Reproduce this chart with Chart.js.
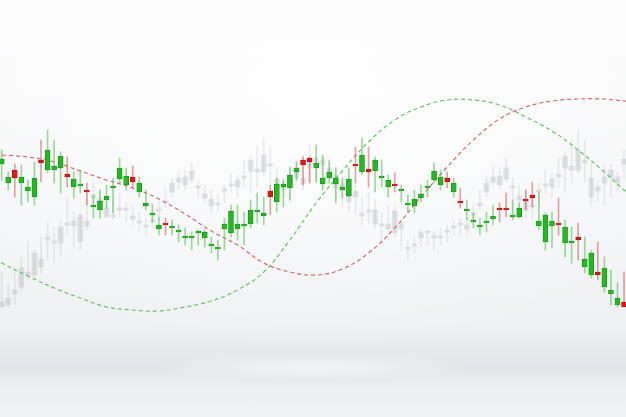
<!DOCTYPE html>
<html>
<head>
<meta charset="utf-8">
<script src="https://cdn.jsdelivr.net/npm/chart.js@4.4.1/dist/chart.umd.min.js"></script>
<style>
  html, body { margin: 0; padding: 0; }
  body {
    width: 626px; height: 417px; overflow: hidden;
    background:
      radial-gradient(ellipse 160px 14px at 50% 88%, rgba(255,255,255,0.55), rgba(255,255,255,0)),
      radial-gradient(ellipse 420px 260px at 50% 22%, rgba(255,255,255,0.9), rgba(255,255,255,0)),
      linear-gradient(to bottom, #fbfbfc 0%, #f4f5f7 55%, #eef0f3 78%, #e3e5ea 88%, #edeef2 93%, #f1f2f5 100%);
  }
  #wrap { position: absolute; left: 0; top: 0; width: 626px; height: 417px; }
</style>
</head>
<body>
<div id="wrap"><canvas id="myChart" width="626" height="417"></canvas></div>
<script>
// Main (coloured) candles, one per session
const candleOpen = [336,317,330,317,309,303,340,330,330,332, 326,313,314,310,293,290,300,312,321,315,
  323,308,294,285,271,276,272,268,262,262, 267,262,254,251,271,267,271,274,276,288,
  284,309,298,313,312,328,340,342,332,316, 322,316,310,304,336,328,331,329,322,313,
  316,309,295,294,302,312,320,315,322,308, 299,289,278,273,277,281,291,291,283,283,
  301,305,274,258,274,276,257,257,263,233, 225,228,213,206,195,198];
const candleClose = [341,323,322,323,313,322,337,350,334,344, 323,321,316,308,294,299,304,314,332,324,
  318,317,297,287,275,275,274,270,263,263, 268,268,256,253,276,289,276,276,290,290,
  287,303,316,316,325,332,335,338,337,322, 328,322,313,321,334,345,328,340,323,320,
  314,310,296,301,306,314,329,323,318,317, 297,290,280,275,279,284,290,290,284,292,
  299,302,279,285,279,275,273,258,260,241, 247,225,232,210,202,193];
const candleHigh = [350,328,336,335,320,338,360,370,360,348, 343,328,330,317,305,310,315,322,342,332,
  334,323,310,296,283,282,280,275,272,268, 270,270,263,260,282,295,295,288,300,307,
  303,315,322,320,333,338,343,343,355,345, 340,332,322,332,353,362,353,343,340,325,
  327,315,305,310,315,320,337,330,328,322, 312,300,287,282,288,295,297,307,300,297,
  310,318,308,287,288,302,280,273,277,263, 250,258,243,230,217,228];
const candleLow = [320,310,303,295,298,295,318,327,317,307, 313,302,307,295,282,282,292,287,317,310,
  312,303,290,278,265,265,265,258,255,250, 255,253,247,240,250,263,260,255,272,277,
  275,285,288,293,300,320,315,317,318,310, 317,297,302,303,317,325,313,308,313,303,
  308,298,288,287,298,303,317,310,312,303, 292,280,272,265,268,275,278,283,280,282,
  290,293,270,250,252,265,243,237,240,227, 222,220,208,195,193,193];

// Faded background candles
const ghostOpen = [198,195,206,213,228,225,233,263,257,257, 276,274,258,274,305,301,283,283,291,291,
  281,277,273,278,289,299,308,322,315,320, 312,302,294,295,309,316,313,322,329,331,
  328,336,304,310,316,322,316,332,342,340, 328,312,313,298,309,284,288,276,274,271,
  267,271,251,254,262,267,262,262,268,272, 276,271,285,294,308,323,315,321,312,300,
  290,293,310,314,313,326,332,330,330,340, 303,309,317,330,317,336];
const ghostClose = [193,202,210,232,225,247,241,260,258,273, 275,279,285,279,302,299,292,284,290,290,
  284,279,275,280,290,297,317,318,323,329, 314,306,301,296,310,314,320,323,340,328,
  345,334,321,313,322,328,322,337,338,335, 332,325,316,316,303,287,290,290,276,276,
  289,276,253,256,268,268,263,263,270,274, 275,275,287,297,317,318,324,332,314,304,
  299,294,308,316,321,323,344,334,350,337, 322,313,323,322,323,341];
const ghostHigh = [228,217,230,243,258,250,263,277,273,280, 302,288,287,308,318,310,297,300,307,297,
  295,288,282,287,300,312,322,328,330,337, 320,315,310,305,315,327,325,340,343,353,
  362,353,332,322,332,340,345,355,343,343, 338,333,320,322,315,303,307,300,288,295,
  295,282,260,263,270,270,268,272,275,280, 282,283,296,310,323,334,332,342,322,315,
  310,305,317,330,328,343,348,360,370,360, 338,320,335,336,328,350];
const ghostLow = [193,193,195,208,220,222,227,240,237,243, 265,252,250,270,293,290,282,280,283,278,
  275,268,265,272,280,292,303,312,310,317, 303,298,287,288,298,308,303,313,308,313,
  325,317,303,302,297,317,310,318,317,315, 320,300,293,288,285,275,277,272,255,260,
  263,250,240,247,253,255,250,255,258,265, 265,265,278,290,303,312,310,317,287,292,
  282,282,295,307,302,313,307,317,327,318, 295,298,295,303,310,320];

// Dashed trend curves, sampled every fourth session
const curveSessions = [-1,0,4,8,12,16,20,24,28,32,36,40,44,48,52,56,60,64,68,72,76,80,84,88,92,95,96];
const redCurve = [345,345,343,338,329,320,312,301,286,269,255,237,228,225,231,247,272,303,333,360,381,393,399,401,401,399,399];
const greenCurve = [241,237,224,212,202,193,190,189,193,199,210,228,260,297,329,358,380,393,400,400,395,383,369,350,328,310,306];

const ctx = document.getElementById('myChart').getContext('2d');

const upBody = 'rgb(34,186,34)';
const upEdge = 'rgb(22,150,22)';
const downBody = 'rgb(226,24,30)';
const downEdge = 'rgb(180,16,20)';
const upWick = 'rgba(60,185,60,0.5)';
const downWick = 'rgba(215,70,70,0.5)';

const isUp = candleOpen.map((o, i) => candleClose[i] >= o);

function bodies(open, close) {
  return open.map((o, i) => ({ x: i, y: [Math.min(o, close[i]), Math.max(o, close[i])] }));
}
function wicks(low, high) {
  return low.map((l, i) => ({ x: i, y: [l, high[i]] }));
}
function curve(values) {
  return values.map((v, i) => ({ x: curveSessions[i], y: v }));
}

const myChart = new Chart(ctx, {
  data: {
    datasets: [
      {
        type: 'bar', order: 0, grouped: false,
        data: bodies(candleOpen, candleClose),
        backgroundColor: isUp.map(u => u ? upBody : downBody),
        borderColor: isUp.map(u => u ? upEdge : downEdge),
        borderWidth: 0.8, borderSkipped: false,
        barThickness: 5, minBarLength: 2
      },
      {
        type: 'bar', order: 1, grouped: false,
        data: wicks(candleLow, candleHigh),
        backgroundColor: isUp.map(u => u ? upWick : downWick),
        borderWidth: 0, barThickness: 1
      },
      {
        type: 'line', order: 2,
        data: curve(redCurve),
        borderColor: 'rgba(205,85,85,0.85)', borderWidth: 1.2,
        borderDash: [4, 3], pointRadius: 0, tension: 0.4, fill: false
      },
      {
        type: 'line', order: 2,
        data: curve(greenCurve),
        borderColor: 'rgba(80,185,80,0.85)', borderWidth: 1.2,
        borderDash: [4, 3], pointRadius: 0, tension: 0.4, fill: false
      },
      {
        type: 'bar', order: 3, grouped: false,
        data: bodies(ghostOpen, ghostClose),
        backgroundColor: 'rgba(170,172,178,0.3)',
        borderWidth: 0, barThickness: 5, minBarLength: 2
      },
      {
        type: 'bar', order: 4, grouped: false,
        data: wicks(ghostLow, ghostHigh),
        backgroundColor: 'rgba(180,182,188,0.25)',
        borderWidth: 0, barThickness: 1
      }
    ]
  },
  options: {
    responsive: false,
    animation: false,
    layout: { padding: 0 },
    scales: {
      x: { type: 'linear', min: -0.26, max: 95.3, offset: false, display: false },
      y: { min: 83, max: 500, display: false }
    },
    plugins: {
      legend: { display: false },
      tooltip: { enabled: false }
    }
  }
});
</script>
</body>
</html>
